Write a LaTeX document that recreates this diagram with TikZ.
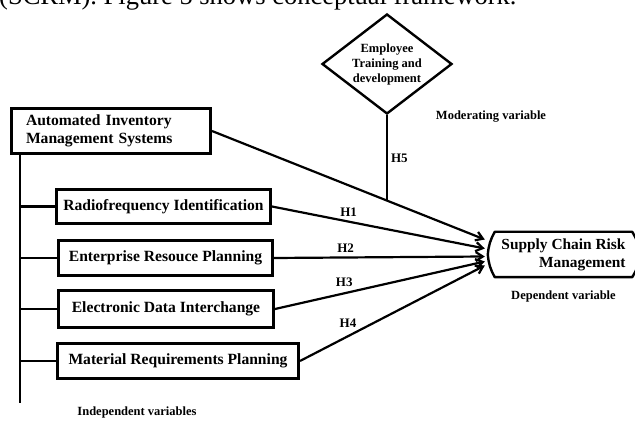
\documentclass[tikz,border=0pt]{standalone}
\usepackage{fontspec}
\setmainfont{Liberation Serif}
\usetikzlibrary{shapes.geometric, arrows.meta, positioning, calc}

\begin{document}
\begin{tikzpicture}[x=1pt, y=-1pt, >={Straight Barb[length=7pt,width=9pt]}]
    \tikzstyle{ivbox} = [rectangle, draw=black, line width=2.6pt, minimum width=214.4pt, minimum height=35.4pt, inner sep=2pt, font=\fontsize{15.6}{18}\selectfont\bfseries]
    \tikzstyle{link}  = [line width=2.2pt]
    \tikzstyle{note}  = [font=\fontsize{12.5}{15}\selectfont\bfseries, inner sep=0pt]
    \tikzstyle{hyp}   = [font=\fontsize{13}{15}\selectfont\bfseries, inner sep=1pt]

    \useasboundingbox (0,0) rectangle (635,427);

    \node (caption) [anchor=base west, inner sep=0pt, font=\fontsize{26.5}{30}\selectfont] at (-1,5) {(SCRM). Figure 5 shows conceptual framework.};

    \node (aims) [ivbox, minimum width=199.4pt, minimum height=45.4pt, text width=170pt, align=left, inner xsep=13pt] at (111,131) {Automated Inventory\\Management Systems};
    \node (rfid) [ivbox, minimum height=34.4pt, below right=33pt and 45pt of aims.south west] {Radiofrequency Identification};
    \node (erp)  [ivbox, below right=14pt and 2pt of rfid.south west] {Enterprise Resouce Planning};
    \node (edi)  [ivbox, minimum width=215.4pt, minimum height=37.4pt, below=12pt of erp.south west, anchor=north west] {Electronic Data Interchange};
    \node (mrp)  [ivbox, minimum width=241.4pt, below right=13pt and -1pt of edi.south west] {Material Requirements Planning};

    \node (scrm) [font=\fontsize{15.4}{18}\selectfont\bfseries, align=right, minimum width=137pt, minimum height=45pt, inner sep=0pt] at (563.5,254.5) {Supply Chain Risk\\Management};
    \draw [line width=2.4pt, line join=round] (scrm.north west) -- (scrm.north east) to[bend left=12] ([xshift=8pt]scrm.east) to[bend left=12] (scrm.south east) -- (scrm.south west) to[bend left=12] ([xshift=-7pt]scrm.west) to[bend left=12] (scrm.north west) -- cycle;

    \node (etd) [diamond, draw, line width=2.4pt, aspect=1.3, minimum width=130pt, minimum height=100pt, note, align=center] at (387,64) {Employee\\Training and\\development};

    \node (modvar) [note] at (491,117) {Moderating variable};
    \node (depvar) [note, below=13pt of scrm] {Dependent variable};
    \node (indvar) [note] at (137,412) {Independent variables};

    \coordinate (trunktop) at ([xshift=10pt]aims.south west);
    \coordinate (trunkend) at ([yshift=-248pt]trunktop);
    \draw [link] (trunktop) -- (trunkend);
    \foreach \n in {rfid, erp, edi, mrp}
        \draw [link] (\n.west) -- (\n.west -| trunktop);

    \draw [link, ->] (aims.east) -- coordinate[pos=0.641] (h5foot) ([xshift=-10pt,yshift=15pt]scrm.west);
    \draw [link, ->] (rfid.east) -- node[hyp, pos=0.36, above=3pt] {H1} ([xshift=-10pt,yshift=6pt]scrm.west);
    \draw [link, ->] (erp.east) -- node[hyp, pos=0.34, above=3pt] {H2} ([xshift=-10pt,yshift=-2pt]scrm.west);
    \draw [link, ->] (edi.east) -- node[hyp, pos=0.33, above=5pt] {H3} ([xshift=-10pt,yshift=-7pt]scrm.west);
    \draw [link, ->] (mrp.east) -- node[hyp, pos=0.26, above=7pt] {H4} ([xshift=-10pt,yshift=-11pt]scrm.west);
    \draw [link] (etd.south) -- node[hyp, right=2pt] {H5} (etd.south |- h5foot);
\end{tikzpicture}
\end{document}
